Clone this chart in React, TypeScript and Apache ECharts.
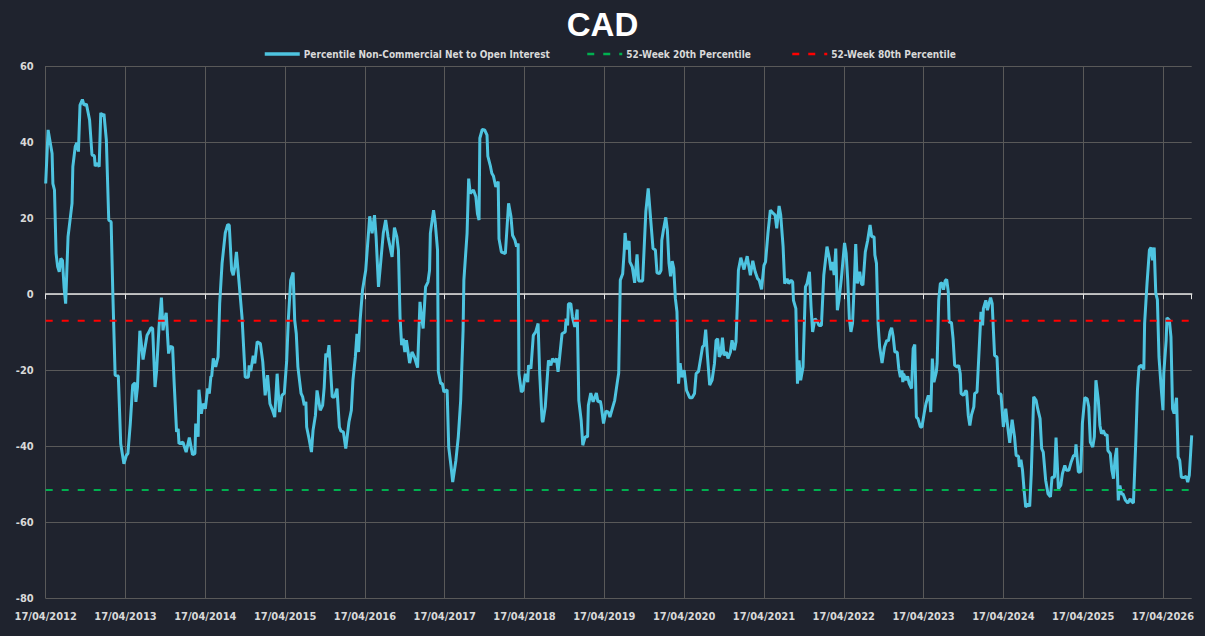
import React, { useEffect, useRef } from "react";
import * as echarts from "echarts";

const titleText = "CAD";
const seriesNames = [
  "Percentile Non-Commercial Net to Open Interest",
  "52-Week 20th Percentile",
  "52-Week 80th Percentile",
];
const yearLabels = [
  "17/04/2012", "17/04/2013", "17/04/2014", "17/04/2015", "17/04/2016",
  "17/04/2017", "17/04/2018", "17/04/2019", "17/04/2020", "17/04/2021",
  "17/04/2022", "17/04/2023", "17/04/2024", "17/04/2025", "17/04/2026",
];
// time, in years since 17/04/2012
const yearOffsets = [
  0.00,0.03,0.08,0.09,0.11,0.13,0.15,0.17,0.19,0.21,0.23,0.25,0.28,0.33,0.34,0.37,0.39,0.41,0.43,0.46,0.48,0.51,0.55,0.58,0.61,0.62,0.65,0.67,0.69,0.71,0.73,0.76,0.79,0.82,0.84,0.87,0.91,0.94,0.98,
  1.01,1.03,1.06,1.09,1.12,1.13,1.15,1.18,1.22,1.24,1.27,1.29,1.32,1.34,1.37,1.39,1.42,1.45,1.47,1.49,1.51,1.54,1.56,1.59,1.61,1.64,1.66,1.67,1.72,1.76,1.80,1.84,1.87,1.88,1.91,1.92,1.95,1.97,
  2.00,2.03,2.05,2.07,2.08,2.10,2.13,2.16,2.18,2.21,2.25,2.28,2.30,2.33,2.35,2.37,2.39,2.41,2.46,2.50,2.54,2.55,2.57,2.60,2.62,2.65,2.69,2.72,2.75,2.78,2.81,2.84,2.87,2.90,2.93,2.96,2.99,
  3.02,3.04,3.07,3.10,3.12,3.14,3.16,3.20,3.22,3.24,3.26,3.27,3.30,3.33,3.35,3.38,3.40,3.44,3.47,3.49,3.51,3.53,3.55,3.57,3.59,3.62,3.65,3.68,3.70,3.73,3.76,3.80,3.83,3.85,3.88,3.90,3.92,3.94,3.97,
  4.01,4.06,4.09,4.12,4.14,4.17,4.20,4.23,4.26,4.29,4.34,4.37,4.40,4.42,4.44,4.46,4.48,4.50,4.52,4.56,4.59,4.62,4.66,4.69,4.71,4.73,4.76,4.79,4.81,4.82,4.86,4.88,4.91,4.92,4.95,4.97,4.99,
  5.03,5.05,5.08,5.10,5.14,5.17,5.20,5.23,5.24,5.28,5.30,5.32,5.36,5.39,5.41,5.43,5.44,5.47,5.50,5.53,5.54,5.57,5.59,5.61,5.64,5.67,5.68,5.71,5.76,5.80,5.83,5.85,5.88,5.90,5.92,5.93,5.96,5.98,
  6.01,6.04,6.05,6.08,6.11,6.14,6.17,6.19,6.22,6.23,6.26,6.30,6.33,6.35,6.38,6.40,6.42,6.44,6.47,6.51,6.52,6.54,6.55,6.58,6.60,6.63,6.66,6.68,6.71,6.73,6.76,6.79,6.80,6.83,6.86,6.90,6.92,6.95,6.96,6.99,
  7.02,7.05,7.07,7.10,7.13,7.16,7.18,7.20,7.23,7.25,7.26,7.28,7.31,7.32,7.35,7.38,7.41,7.43,7.48,7.52,7.55,7.58,7.61,7.64,7.66,7.69,7.71,7.72,7.74,7.77,7.79,7.81,7.83,7.85,7.87,7.89,7.91,7.93,7.95,7.97,
  8.00,8.03,8.07,8.10,8.13,8.15,8.18,8.21,8.23,8.25,8.27,8.29,8.32,8.35,8.38,8.40,8.42,8.44,8.46,8.48,8.50,8.53,8.55,8.58,8.60,8.63,8.65,8.67,8.68,8.71,8.75,8.79,8.83,8.86,8.89,8.92,8.94,8.97,
  9.00,9.02,9.05,9.08,9.11,9.14,9.16,9.19,9.21,9.24,9.26,9.29,9.31,9.34,9.36,9.37,9.40,9.42,9.44,9.46,9.49,9.52,9.54,9.57,9.59,9.61,9.64,9.67,9.69,9.72,9.75,9.79,9.82,9.84,9.86,9.88,9.90,9.92,9.94,9.97,
  10.01,10.03,10.05,10.07,10.09,10.11,10.13,10.15,10.17,10.20,10.22,10.24,10.27,10.30,10.33,10.35,10.38,10.39,10.41,10.43,10.45,10.48,10.51,10.54,10.56,10.58,10.60,10.62,10.64,10.67,10.69,10.71,10.73,10.74,10.75,10.78,10.80,10.82,10.85,10.87,10.89,10.91,10.93,10.96,10.98,
  11.01,11.03,11.06,11.08,11.09,11.11,11.13,11.16,11.17,11.19,11.21,11.23,11.25,11.27,11.29,11.31,11.32,11.35,11.37,11.39,11.42,11.44,11.46,11.47,11.50,11.53,11.54,11.56,11.58,11.60,11.63,11.64,11.67,11.69,11.72,11.74,11.75,11.78,11.80,11.82,11.84,11.86,11.89,11.92,11.94,11.97,
  12.00,12.03,12.06,12.08,12.11,12.14,12.16,12.19,12.20,12.22,12.24,12.26,12.28,12.31,12.33,12.35,12.38,12.41,12.43,12.46,12.48,12.50,12.53,12.56,12.59,12.61,12.64,12.66,12.69,12.72,12.74,12.77,12.79,12.82,12.85,12.88,12.90,12.91,12.94,12.97,12.99,
  13.02,13.05,13.07,13.09,13.12,13.14,13.16,13.19,13.21,13.23,13.25,13.28,13.30,13.31,13.34,13.36,13.38,13.40,13.42,13.44,13.46,13.48,13.50,13.53,13.56,13.59,13.61,13.63,13.66,13.68,13.70,13.73,13.76,13.77,13.80,13.83,13.85,13.87,13.89,13.91,13.93,13.95,13.98,
  14.00,14.01,14.04,14.05,14.08,14.10,14.12,14.14,14.17,14.19,14.21,14.23,14.26,14.29,14.31,14.33,14.36,
];
const percentileValues = [
  29.1,43.2,37.0,29.1,27.4,10.7,7.2,5.9,9.4,8.9,1.9,-2.5,15.1,23.9,33.5,38.8,39.8,37.5,49.7,51.2,49.7,50.0,45.8,36.6,36.4,33.7,34.4,33.5,47.7,46.8,47.4,40.5,19.5,19.0,1.1,-21.3,-21.5,-39.3,-44.6,
  -42.4,-41.9,-34.0,-23.9,-23.3,-28.3,-24.4,-9.6,-17.2,-14.6,-10.8,-10.1,-8.8,-9.0,-24.4,-20.0,-8.6,-0.9,-9.5,-6.8,-4.9,-15.6,-13.7,-13.9,-23.5,-36.2,-35.4,-39.3,-38.9,-41.5,-37.7,-42.2,-41.9,-34.0,-37.5,-25.1,-31.4,-28.8,
  -30.1,-24.8,-26.1,-21.6,-21.6,-16.9,-19.1,-16.5,-2.5,8.1,16.1,18.3,18.2,6.3,5.0,7.2,11.1,6.3,-6.0,-21.8,-21.8,-18.7,-20.2,-16.2,-18.2,-12.5,-13.0,-17.8,-26.6,-21.3,-28.8,-30.4,-32.3,-20.9,-31.0,-26.6,-26.0,
  -17.4,-6.8,3.7,5.7,-6.8,-10.4,-19.1,-26.1,-27.0,-29.2,-28.3,-34.9,-38.0,-41.5,-35.8,-31.8,-25.3,-30.5,-29.2,-24.4,-15.6,-16.5,-13.4,-20.0,-27.0,-27.0,-24.8,-34.9,-36.0,-36.2,-40.6,-33.6,-30.5,-22.6,-16.5,-10.4,-15.2,-6.8,1.1,
  6.3,20.5,16.0,20.8,15.1,1.9,8.9,16.0,19.5,15.1,9.8,17.5,15.1,11.6,-6.0,-13.4,-11.7,-15.2,-12.1,-18.1,-15.2,-16.5,-19.3,-2.0,-6.0,-9.0,1.9,3.2,6.3,16.0,22.1,19.0,11.6,-20.4,-23.5,-23.5,-25.7,
  -25.1,-40.2,-45.4,-49.4,-43.7,-37.5,-27.9,-9.5,3.7,16.0,30.4,26.5,27.4,25.6,21.2,19.5,41.0,43.3,43.2,41.8,36.3,33.9,31.8,31.1,28.2,29.6,14.6,11.1,10.7,23.9,20.4,15.5,14.2,12.5,13.3,-20.9,-25.7,-25.3,
  -20.9,-23.1,-18.7,-19.6,-10.8,-9.9,-7.7,-20.9,-33.2,-33.6,-29.6,-17.4,-18.7,-16.9,-17.8,-16.9,-20.4,-16.5,-10.4,-9.9,-6.4,-8.2,-2.5,-2.5,-6.0,-8.6,-4.0,-27.9,-33.2,-39.7,-37.5,-37.5,-29.2,-26.0,-28.3,-26.0,-28.3,-28.1,-29.2,-34.0,
  -30.7,-31.0,-32.3,-30.1,-27.9,-23.5,-20.7,3.7,5.4,11.6,16.1,11.8,14.0,8.5,7.2,3.0,10.5,3.5,3.5,21.7,27.8,19.9,12.0,11.6,5.6,5.4,6.3,14.2,16.8,20.2,16.8,8.1,4.7,8.7,6.8,-1.1,-4.6,-23.5,-18.1,-21.8,
  -20.0,-25.3,-27.2,-27.2,-26.1,-20.9,-20.3,-16.5,-13.9,-13.4,-9.3,-15.6,-23.9,-22.6,-18.2,-12.1,-11.7,-16.5,-15.6,-11.4,-16.1,-15.2,-16.9,-15.2,-12.1,-14.7,-12.5,-0.7,6.3,9.6,6.5,10.0,5.0,8.8,5.9,4.1,3.7,1.3,
  7.6,8.5,16.0,22.1,21.4,20.8,17.3,23.2,20.8,12.5,2.8,4.1,2.8,3.7,3.2,-1.6,-3.8,-23.5,-17.4,-22.6,-19.1,1.9,2.8,5.9,-3.3,-9.9,-6.4,-7.3,-8.2,-8.2,5.0,12.5,9.4,6.3,8.5,5.0,12.0,-4.2,-1.6,4.1,
  13.5,10.7,3.7,-6.4,-9.9,-7.7,1.9,13.2,2.8,5.9,2.8,2.4,11.1,14.2,18.2,15.1,15.1,10.3,8.1,-7.7,-13.9,-18.1,-13.9,-12.1,-12.3,-9.9,-8.8,-11.2,-15.2,-15.2,-19.6,-21.8,-20.0,-23.1,-20.9,-22.6,-21.6,-23.5,-24.8,-14.3,-13.2,-32.3,-32.7,-34.9,-34.9,
  -31.0,-28.8,-26.6,-27.9,-31.0,-16.9,-23.1,-20.4,-18.2,-1.6,2.8,3.0,1.2,3.5,3.9,0.6,-7.3,-7.5,-11.7,-18.7,-19.1,-18.7,-20.9,-26.1,-26.6,-25.3,-25.7,-31.8,-34.5,-31.8,-29.6,-26.1,-25.7,-17.4,-4.6,-8.2,-3.8,-1.6,-4.2,-2.5,-0.9,-2.5,-16.1,-16.5,-26.1,-26.3,
  -34.9,-30.1,-35.8,-39.1,-33.0,-37.5,-42.4,-42.6,-45.4,-43.5,-46.3,-51.6,-56.0,-55.1,-55.8,-47.2,-27.0,-27.9,-30.1,-32.7,-40.6,-41.5,-48.9,-52.5,-53.3,-48.1,-48.1,-37.7,-51.1,-50.2,-47.2,-45.0,-46.3,-46.3,-44.1,-42.4,-42.4,-39.5,-46.8,-46.6,-34.0,
  -27.2,-27.5,-29.6,-38.9,-40.2,-37.5,-22.6,-27.9,-34.5,-36.7,-35.8,-37.1,-36.9,-41.1,-41.9,-46.3,-48.5,-43.2,-40.4,-54.2,-50.3,-52.5,-52.5,-54.2,-54.9,-53.8,-54.6,-54.9,-38.4,-25.3,-19.1,-18.7,-19.8,-7.7,2.8,11.6,12.3,8.9,12.3,0.2,-1.4,-16.5,-25.3,
  -30.5,-20.9,-12.1,-6.2,-6.8,-11.2,-30.1,-31.4,-27.2,-42.8,-43.7,-48.1,-48.2,-47.9,-49.4,-47.6,-37.1,
];
const percentile20 = -51.5;
const percentile80 = -7.0;

const BG = "#1f232e";
const TEXT = "#d9d9d9";
const GRID = "#595959";
const NARROW = '"DejaVu Sans Condensed", "Liberation Sans", sans-serif';

export default function App() {
  const ref = useRef<HTMLDivElement>(null);
  useEffect(() => {
    document.body.style.margin = "0";
    const chart = echarts.init(ref.current!, null, { renderer: "svg" });
    const endX = yearOffsets[yearOffsets.length - 1];
    const mainData = yearOffsets.map((t, i) => [t, percentileValues[i]]);
    const p20Data = [[0, percentile20], [endX, percentile20]];
    const p80Data = [[0, percentile80], [endX, percentile80]];
    const legendText = { color: TEXT, fontSize: 10, fontWeight: "bold", fontFamily: NARROW, padding: [0, 0, 0, -1] };
    const legendBase = {
      top: 49, itemWidth: 35, itemHeight: 10, itemGap: 0, selectedMode: false,
      textStyle: legendText, padding: 0,
      itemStyle: { color: "transparent", borderColor: "transparent", borderWidth: 0, opacity: 0 },
    };
    chart.setOption({
      animation: false,
      backgroundColor: BG,
      title: {
        text: titleText, left: "center", top: 3,
        textStyle: { color: "#ffffff", fontSize: 33, fontWeight: "bold", fontFamily: '"Liberation Sans", Arial, sans-serif' },
      },
      legend: [
        { ...legendBase, left: 263, data: [seriesNames[0]], lineStyle: { width: 3.5 } },
        { ...legendBase, left: 586, data: [seriesNames[1]], lineStyle: { width: 2.5 } },
        { ...legendBase, left: 791, data: [seriesNames[2]], lineStyle: { width: 2.5 } },
      ],
      grid: { left: 45.7, right: 13.3, top: 66, bottom: 37.5 },
      xAxis: [
        {
          type: "value", min: 0, max: endX, interval: 1,
          axisLine: { show: false, onZero: false }, axisTick: { show: false },
          splitLine: { show: true, showMaxLine: false, lineStyle: { color: GRID, width: 1 } },
          axisLabel: {
            showMaxLabel: false, color: TEXT, fontSize: 11, fontWeight: "bold", fontFamily: NARROW, margin: 12,
            formatter: (v: number) => {
              const k = Math.round(v);
              return Math.abs(v - k) < 1e-6 && yearLabels[k] ? yearLabels[k] : "";
            },
          },
        },
        {
          type: "value", min: 0, max: endX, interval: 1, position: "bottom",
          axisLine: { show: true, onZero: true, onZeroAxisIndex: 0, lineStyle: { color: "#e6e6e6", width: 1.5 } },
          axisTick: { show: true, length: 5, lineStyle: { color: "#e6e6e6", width: 1 } },
          axisLabel: { show: false }, splitLine: { show: false },
        },
      ],
      yAxis: {
        type: "value", min: -80, max: 60, interval: 20,
        axisLine: { show: false, onZero: false }, axisTick: { show: false },
        splitLine: { show: true, lineStyle: { color: GRID, width: 1 } },
        axisLabel: { color: TEXT, fontSize: 11, fontWeight: "bold", fontFamily: NARROW, margin: 12 },
      },
      series: [
        {
          name: seriesNames[0], type: "line", data: mainData, symbol: "none", silent: true,
          lineStyle: { color: "#4ec4e0", width: 3 }, itemStyle: { color: "#4ec4e0" },
        },
        {
          name: seriesNames[1], type: "line", data: p20Data, symbol: "none", silent: true,
          lineStyle: { color: "#00b050", width: 2, type: [7, 9] }, itemStyle: { color: "#00b050" },
        },
        {
          name: seriesNames[2], type: "line", data: p80Data, symbol: "none", silent: true,
          lineStyle: { color: "#ff0000", width: 2, type: [7, 9] }, itemStyle: { color: "#ff0000" },
        },
      ],
    });
    return () => chart.dispose();
  }, []);
  return <div ref={ref} style={{ width: 1205, height: 636 }} />;
}
